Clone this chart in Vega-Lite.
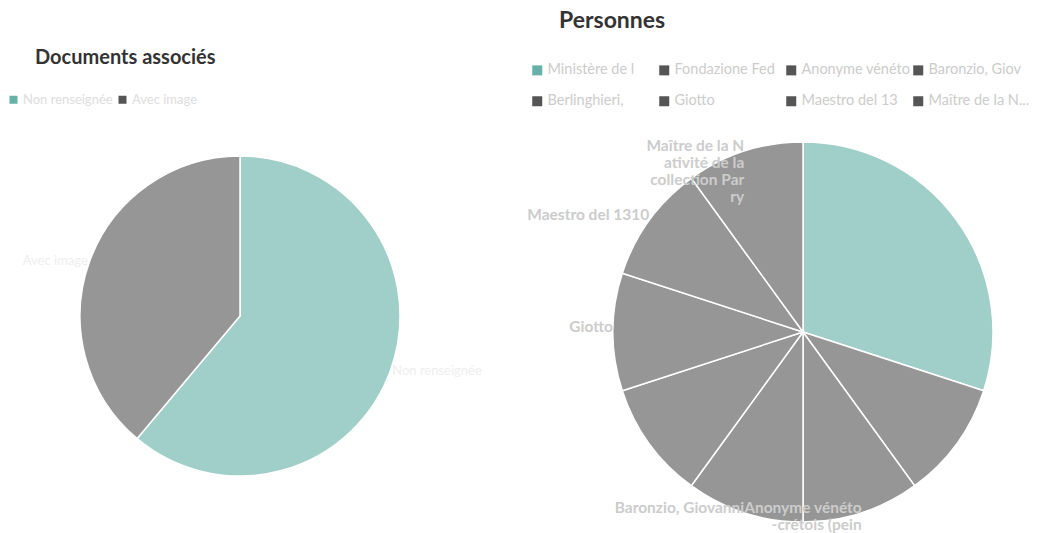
{
  "$schema": "https://vega.github.io/schema/vega-lite/v6.json",
  "padding": {"top": 10, "left": 0, "right": 0, "bottom": 0},
  "background": "white",
  "bounds": "flush",
  "spacing": 103,
  "resolve": {"scale": {"color": "independent", "theta": "independent"}, "legend": {"color": "independent"}},
  "config": {"view": {"stroke": null}, "font": "Lato"},
  "hconcat": [
    {
      "width": 480,
      "height": 370,
      "title": {"text": "Documents associés", "anchor": "start", "frame": "group", "dx": 35, "offset": 25, "fontSize": 20, "fontWeight": "bold", "color": "#333333", "font": "Lato"},
      "data": {"values": [
        {"i": 1, "cat": "Non renseignée", "n": 11},
        {"i": 2, "cat": "Avec image", "n": 7}
      ]},
      "encoding": {
        "theta": {"field": "n", "type": "quantitative", "stack": true},
        "order": {"field": "i", "type": "quantitative"},
        "color": {
          "field": "cat", "type": "nominal", "sort": null,
          "scale": {"range": ["#66b2a8", "#555555"]},
          "legend": {
            "title": null, "orient": "none", "legendX": 7, "legendY": -38,
            "direction": "horizontal", "columns": 2, "columnPadding": 3,
            "symbolType": "square", "symbolSize": 64, "symbolStrokeWidth": 0,
            "labelFontSize": 13, "labelColor": "#dddddd", "labelFont": "Lato", "labelOffset": 3,
            "encode": {"symbols": {"update": {"fillOpacity": {"value": 1}, "opacity": {"value": 1}, "strokeWidth": {"value": 0}}}}
          }
        }
      },
      "layer": [
        {"mark": {"type": "arc", "outerRadius": 160, "fillOpacity": 0.62, "stroke": "white", "strokeWidth": 1.5}},
        {
          "mark": {"type": "text", "radius": 162, "align": "left", "baseline": "alphabetic", "fontSize": 13, "font": "Lato", "dy": 4},
          "encoding": {
            "text": {"condition": {"test": "datum.cat == 'Non renseignée'", "field": "cat"}, "value": ""},
            "color": {"value": "#eeeeee"}
          }
        },
        {
          "mark": {"type": "text", "radius": 162, "align": "right", "baseline": "alphabetic", "fontSize": 13, "font": "Lato", "dy": 4},
          "encoding": {
            "text": {"condition": {"test": "datum.cat == 'Avec image'", "field": "cat"}, "value": ""},
            "color": {"value": "#eeeeee"}
          }
        }
      ]
    },
    {
      "width": 440,
      "height": 402,
      "title": {"text": "Personnes", "anchor": "start", "frame": "group", "dx": -24, "offset": 30, "fontSize": 23, "fontWeight": "bold", "color": "#333333", "font": "Lato"},
      "data": {"values": [
        {"i": 1, "name": "Ministère de la Culture", "label": "", "n": 3},
        {"i": 2, "name": "Fondazione Federico Zeri", "label": "", "n": 1},
        {"i": 3, "name": "Anonyme vénéto-crétois (peintre)", "label": "Anonyme vénéto\n-crétois (pein", "n": 1},
        {"i": 4, "name": "Baronzio, Giovanni", "label": "Baronzio, Giovanni", "n": 1},
        {"i": 5, "name": "Berlinghieri, Bonaventura", "label": "", "n": 1},
        {"i": 6, "name": "Giotto", "label": "Giotto", "n": 1},
        {"i": 7, "name": "Maestro del 1310", "label": "Maestro del 1310", "n": 1},
        {"i": 8, "name": "Maître de la Nativité de la collection Parry", "label": "Maître de la N\nativité de la\ncollection Par\nry", "n": 1}
      ]},
      "encoding": {
        "theta": {"field": "n", "type": "quantitative", "stack": true},
        "order": {"field": "i", "type": "quantitative"},
        "color": {
          "field": "name", "type": "nominal", "sort": null,
          "scale": {"range": ["#66b2a8", "#555555", "#555555", "#555555", "#555555", "#555555", "#555555", "#555555"]},
          "legend": {
            "title": null, "orient": "none", "legendX": -53, "legendY": -68,
            "direction": "horizontal", "columns": 4, "columnPadding": 0, "rowPadding": 16, "gridAlign": "all",
            "symbolType": "square", "symbolSize": 100, "symbolStrokeWidth": 0,
            "labelFontSize": 14.5, "labelColor": "#cccccc", "labelFont": "Lato", "labelOffset": 3, "labelLimit": 200,
            "labelExpr": "indexof(datum.label, 'Maître de la') == 0 ? 'Maître de la N...' : substring(datum.label, 0, 14)",
            "encode": {"symbols": {"update": {"fillOpacity": {"value": 1}, "opacity": {"value": 1}, "strokeWidth": {"value": 0}}}}
          }
        }
      },
      "layer": [
        {"mark": {"type": "arc", "outerRadius": 190, "fillOpacity": 0.62, "stroke": "white", "strokeWidth": 1.5}},
        {
          "mark": {"type": "text", "radius": 190, "align": "right", "baseline": "alphabetic", "fontSize": 15.5, "fontWeight": "bold", "font": "Lato", "lineBreak": "\n", "lineHeight": 17},
          "encoding": {
            "text": {"field": "label"},
            "color": {"value": "#cccccc"}
          }
        }
      ]
    }
  ]
}
